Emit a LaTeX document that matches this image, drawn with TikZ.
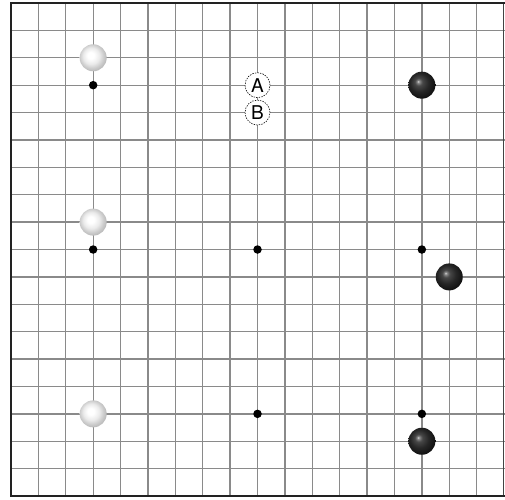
\documentclass[tikz,border=0pt]{standalone}
\usepackage{fontspec}
\setmainfont{TeX Gyre Heros}
\usetikzlibrary{calc}
\definecolor{gridgray}{HTML}{8A8A8A}
\definecolor{edgeblack}{HTML}{222222}
\pgfdeclareradialshading{whiteball}{\pgfpoint{-5bp}{5bp}}{%
  color(0bp)=(white); color(6bp)=(white); color(15bp)=(black!8); color(22bp)=(black!20); color(29bp)=(black!30); color(50bp)=(black!32)}
\pgfdeclareradialshading{blackball}{\pgfpoint{-7bp}{7bp}}{%
  color(0bp)=(black!10); color(2bp)=(black!45); color(7bp)=(black!72); color(17bp)=(black!85); color(30bp)=(black!95); color(50bp)=(black)}
\tikzset{
  gridline/.style={draw=gridgray, line width=1.3pt},
  edgeline/.style={draw=edgeblack, line width=2.6pt},
  sideline/.style={draw=edgeblack!85, line width=0.9pt},
  starpt/.style={circle, fill=black, inner sep=0pt, minimum size=8.5pt},
  whitestone/.style={circle, inner sep=0pt, minimum size=27pt, shading=whiteball},
  blackstone/.style={circle, inner sep=0pt, minimum size=27pt, shading=blackball},
  marker/.style={circle, draw=black, dashed, dash pattern=on 1.4pt off 1.2pt, line width=0.6pt, fill=white, inner sep=0pt, minimum size=25pt, font=\fontsize{19}{19}\selectfont}
}
\begin{document}
\begin{tikzpicture}[x=27.39pt, y=-27.39pt]
  \useasboundingbox (-0.4016,-0.1095) rectangle (18.0354,18.1091);
  \fill[white] (-0.4016,-0.1095) rectangle (18.0354,18.1091);
  % grid
  \foreach \i in {1,...,17} {
    \draw[gridline] (\i,0) -- (\i,18);
  }
  \foreach \j in {1,...,17} {
    \draw[gridline] (0,\j) -- (18.0354,\j);
  }
  \draw[sideline] (17.98,0) -- (17.98,18);
  % edges
  \draw[edgeline] (18.0354,0) -- (0,0) -- (0,18) -- (18.0354,18);
  % star points
  \foreach \cx/\cy [count=\k] in {3/3,9/3,15/3,3/9,9/9,15/9,3/15,9/15,15/15} {
    \node[starpt] (s\k) at (\cx,\cy) {};
  }
  % stones
  \node[whitestone] (w1) at (3,2) {};
  \node[whitestone] (w2) at (3,8) {};
  \node[whitestone] (w3) at (3,15) {};
  \node[blackstone] (b1) at (15,3) {};
  \node[blackstone] (b2) at (16,10) {};
  \node[blackstone] (b3) at (15,16) {};
  % markers
  \node[marker] (A) at (9,3) {A};
  \node[marker] (B) at (9,4) {B};
\end{tikzpicture}
\end{document}
